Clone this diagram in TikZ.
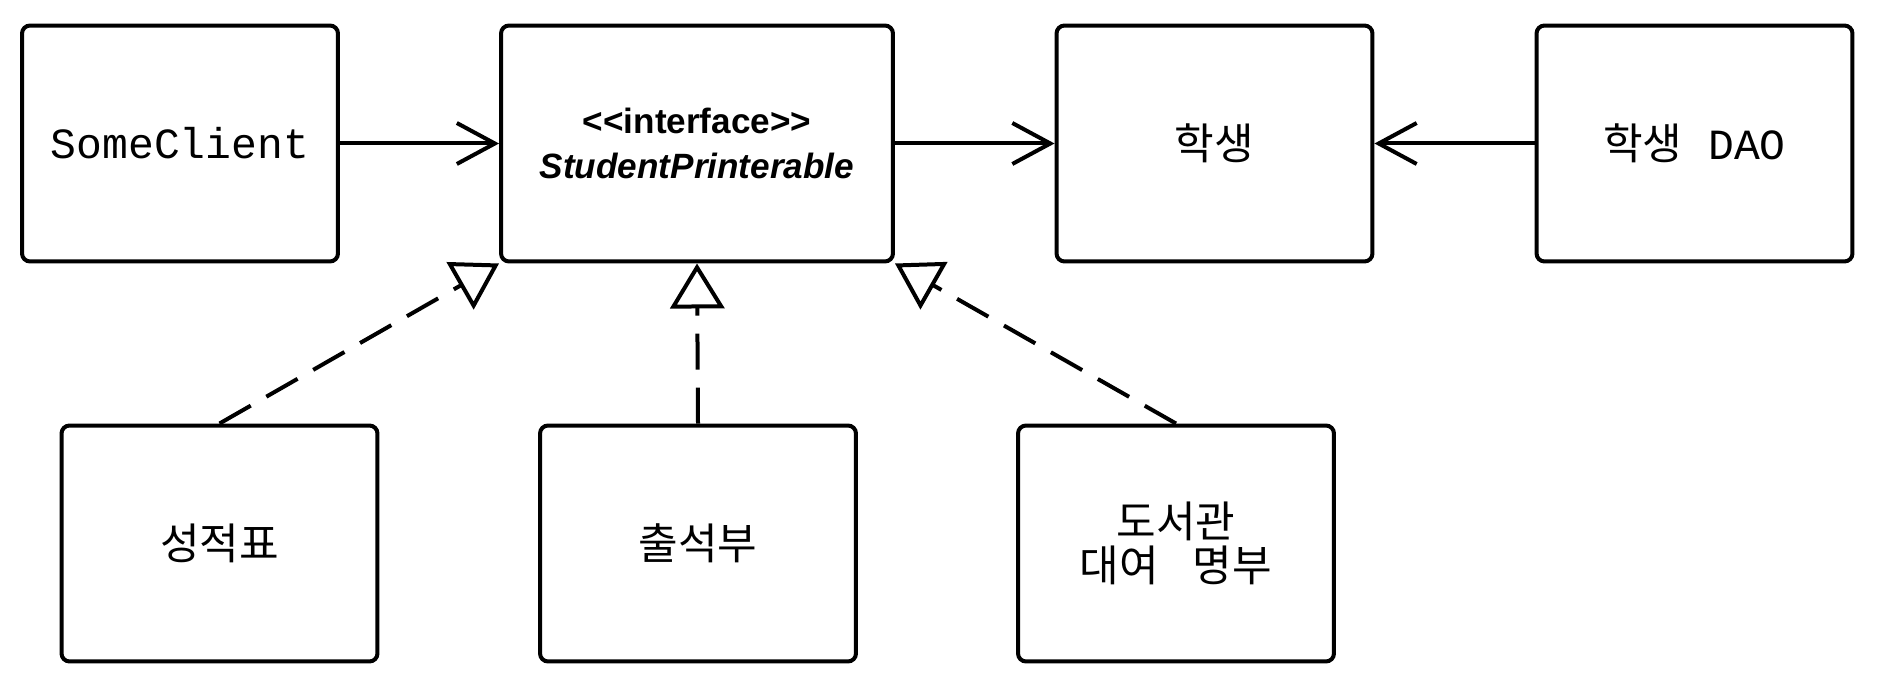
\documentclass[tikz,border=0pt]{standalone}
\usepackage{fontspec}
\setmainfont{Liberation Sans}
\setmonofont{Liberation Mono}
\newfontfamily\kr[WordSpace=3.5]{Noto Sans CJK KR}
\usetikzlibrary{arrows.meta, positioning}

\begin{document}
\begin{tikzpicture}[x=0.02cm, y=-0.02cm, line width=0.08cm,
    box/.style={draw, rounded corners=0.16cm, minimum width=6.32cm, minimum height=4.72cm,
        align=center, inner sep=0pt, font=\fontsize{24.5}{25}\selectfont\kr},
    uses/.style={-{Straight Barb[length=0.76cm, width=0.82cm]}},
    realizes/.style={dash pattern=on 0.72cm off 0.36cm,
        -{Triangle[open, length=0.9cm, width=1.08cm, fill=white]}}]
    \useasboundingbox (0,0) rectangle (1882,692);

    % Top row
    \node[box, font=\fontsize{24.5}{25}\selectfont\ttfamily] (client) at (180,143.5) {SomeClient};
    \node[box, minimum width=7.84cm, font=\fontsize{20}{26}\selectfont\bfseries] (iface) at (697,143.5)
        {{<}{<}interface{>}{>}\\\textit{StudentPrinterable}};
    \node[box] (student) at (1214.5,143.5) {학생};
    \node[box, font=\fontsize{24.5}{25}\selectfont\ttfamily] (dao) at (1694.5,143.5) {{\kr 학생} DAO};

    % Implementations
    \node[box] (grades) at (219.5,543.5) {성적표};
    \node[box] (attend) at (698,543.5) {출석부};
    \node[box] (library) at (1176,543.5) {도서관\\대여 명부};

    % Dependencies
    \draw[uses] (client.east) -- (iface.west);
    \draw[uses] (iface.east) -- (student.west);
    \draw[uses] (dao.west) -- (student.east);

    % Realizations (dashed, open triangle)
    \draw[realizes] (grades.north) -- (iface.south west);
    \draw[realizes] (attend.north) -- (iface.south);
    \draw[realizes] (library.north) -- (iface.south east);
\end{tikzpicture}
\end{document}
